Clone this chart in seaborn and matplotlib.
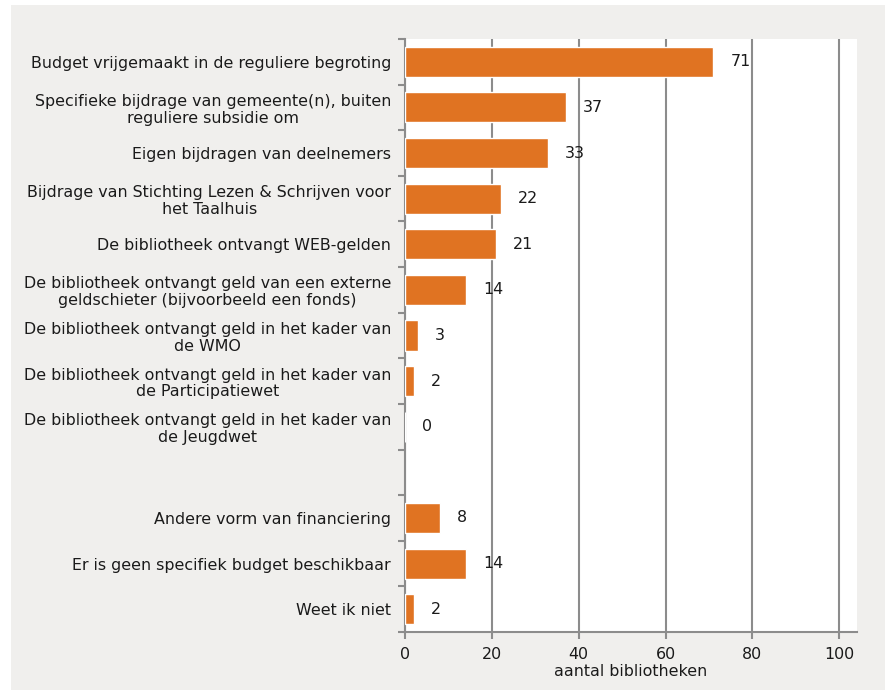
import matplotlib
matplotlib.use("Agg")
import matplotlib.pyplot as plt
from matplotlib.patches import Rectangle
from matplotlib.ticker import FixedLocator
import numpy as np
import pandas as pd
import seaborn as sns

categories = [
    "Budget vrijgemaakt in de reguliere begroting",
    "Specifieke bijdrage van gemeente(n), buiten\nreguliere subsidie om",
    "Eigen bijdragen van deelnemers",
    "Bijdrage van Stichting Lezen & Schrijven voor\nhet Taalhuis",
    "De bibliotheek ontvangt WEB-gelden",
    "De bibliotheek ontvangt geld van een externe\ngeldschieter (bijvoorbeeld een fonds)",
    "De bibliotheek ontvangt geld in het kader van\nde WMO",
    "De bibliotheek ontvangt geld in het kader van\nde Participatiewet",
    "De bibliotheek ontvangt geld in het kader van\nde Jeugdwet",
    " ",
    "Andere vorm van financiering",
    "Er is geen specifiek budget beschikbaar",
    "Weet ik niet",
]
values = [71, 37, 33, 22, 21, 14, 3, 2, 0, np.nan, 8, 14, 2]
xticks = [0, 20, 40, 60, 80, 100]
xlabel = "aantal bibliotheken"

orange = "#E07322"
grid_gray = "#8C8C8C"
panel_bg = "#F0EFED"
text_color = "#1a1a1a"
fs = 11.4

sns.set_theme(style="white")
plt.rcParams["font.family"] = ["DejaVu Sans"]

df = pd.DataFrame({"categorie": categories, "aantal": values})

fig = plt.figure(figsize=(8.85, 6.9), dpi=100, facecolor="white")
# light grey panel behind the chart
fig.patches.append(Rectangle((11 / 885, 0), 1 - 11 / 885, 1 - 5 / 690,
                             transform=fig.transFigure, facecolor=panel_bg,
                             edgecolor="none", zorder=-10))
ax = fig.add_axes([405 / 885, 1 - 632 / 690, (857 - 405) / 885, (632 - 39) / 690])
ax.set_facecolor("white")

sns.barplot(data=df, x="aantal", y="categorie", order=categories,
            color=orange, saturation=1, width=0.66, ax=ax, zorder=3)

ax.set_xlim(0, 104.1)
ax.set_ylim(len(categories) - 0.5, -0.5)
ax.set_xticks(xticks)
ax.set_xticklabels([str(t) for t in xticks])
ax.xaxis.grid(True, color=grid_gray, linewidth=1.5, zorder=1)
ax.yaxis.grid(False)
ax.set_axisbelow(True)

for s in ["top", "right"]:
    ax.spines[s].set_visible(False)
for s in ["left", "bottom"]:
    ax.spines[s].set_color(grid_gray)
    ax.spines[s].set_linewidth(1.5)

# category boundaries as short outward ticks on the y axis
ax.yaxis.set_minor_locator(FixedLocator(np.arange(-0.5, len(categories), 1.0)))
ax.tick_params(axis="y", which="major", length=0, pad=10, labelsize=fs,
               labelcolor=text_color)
ax.tick_params(axis="y", which="minor", left=True, length=5, width=1.5, color=grid_gray)
ax.tick_params(axis="x", which="major", bottom=True, length=5, width=1.5, color=grid_gray,
               pad=6, labelsize=fs, labelcolor=text_color)
for lbl in ax.get_yticklabels():
    lbl.set_multialignment("center")
    lbl.set_linespacing(1.15)

ax.set_ylabel("")
ax.set_xlabel(xlabel, fontsize=fs, color=text_color, labelpad=1)

# value labels next to each bar
for i, v in enumerate(values):
    if np.isnan(v):
        continue
    ax.annotate(f"{int(v)}", xy=(v, i), xytext=(17, 0), textcoords="offset pixels",
                ha="left", va="center", fontsize=fs, color=text_color, zorder=4)

fig.savefig("out.png", dpi=100, facecolor=fig.get_facecolor())
